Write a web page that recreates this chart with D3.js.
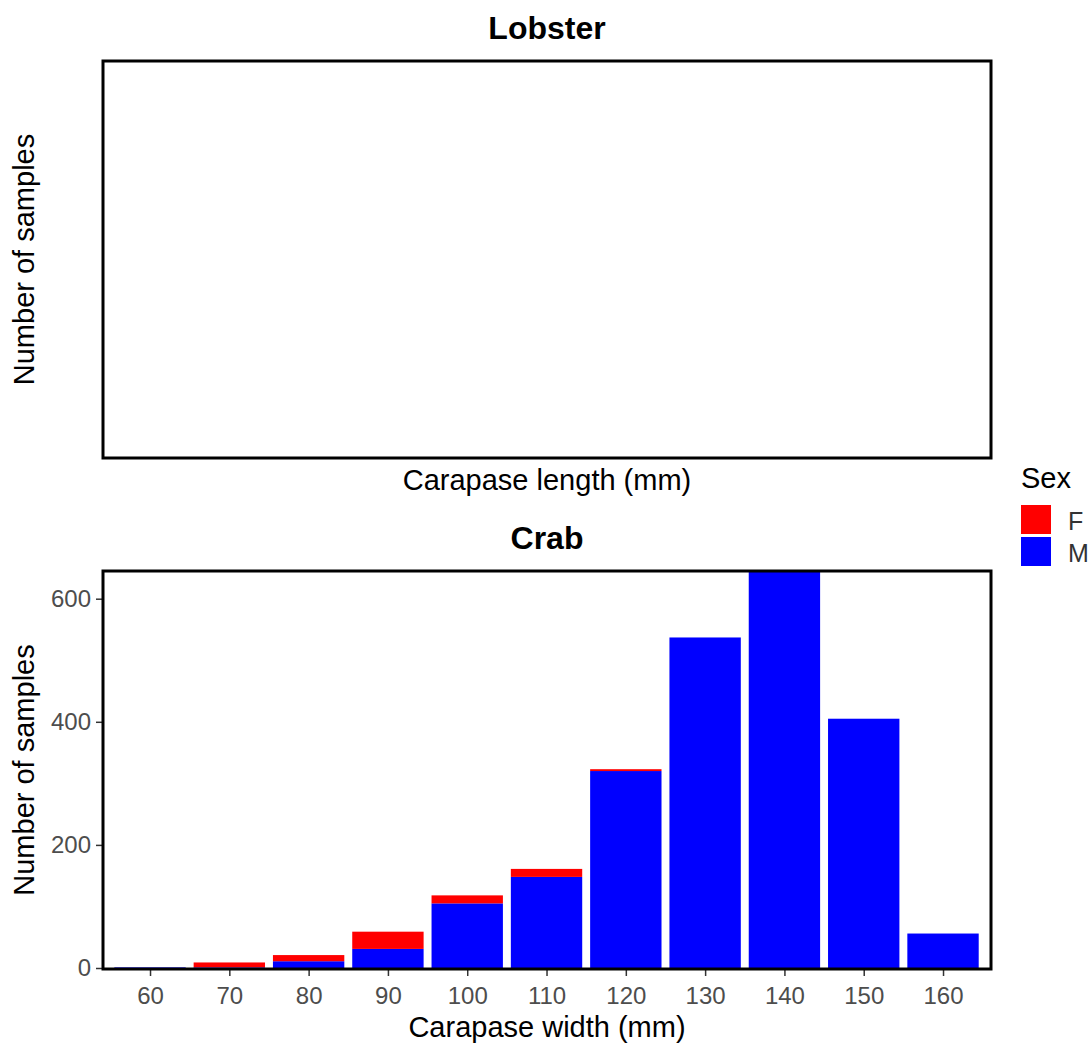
<!DOCTYPE html>
<html>
<head>
<meta charset="utf-8">
<script src="https://cdn.jsdelivr.net/npm/d3@7"></script>
<style>
  body { margin: 0; background: #fff; }
  text { font-family: "Liberation Sans", Arial, sans-serif; }
</style>
</head>
<body>
<div id="chart"></div>
<script>
// crab carapace width bins (mm) and counts per sex
const widths = [60, 70, 80, 90, 100, 110, 120, 130, 140, 150, 160];
const countM = [1, 1, 11, 31, 105, 148, 320, 537, 645, 405, 56];
const countF = [0, 8, 10, 28, 13, 13, 3, 0, 0, 0, 0];
const yTicks = [0, 200, 400, 600];
const sexes = ["F", "M"];
const sexColors = ["#ff0000", "#0000ff"];

const W = 1091, H = 1046;
const svg = d3.select("#chart").append("svg")
    .attr("width", W)
    .attr("height", H);

const left = 103, right = 991;
const titleSize = "32px", axisTitleSize = "29px", tickSize = "24px";

// ---- Lobster panel (empty) ----
const lob = { top: 61, bottom: 458 };

svg.append("text")
    .attr("x", (left + right) / 2)
    .attr("y", 39)
    .attr("text-anchor", "middle")
    .style("font-size", titleSize)
    .style("font-weight", "bold")
    .text("Lobster");

svg.append("rect")
    .attr("x", left)
    .attr("y", lob.top)
    .attr("width", right - left)
    .attr("height", lob.bottom - lob.top)
    .attr("fill", "none")
    .attr("stroke", "#000")
    .attr("stroke-width", 3);

svg.append("text")
    .attr("transform", `translate(34, ${(lob.top + lob.bottom) / 2}) rotate(-90)`)
    .attr("text-anchor", "middle")
    .style("font-size", axisTitleSize)
    .text("Number of samples");

svg.append("text")
    .attr("x", (left + right) / 2)
    .attr("y", 490)
    .attr("text-anchor", "middle")
    .style("font-size", axisTitleSize)
    .text("Carapase length (mm)");

// ---- Crab panel ----
const crab = { top: 571, bottom: 969 };

svg.append("text")
    .attr("x", (left + right) / 2)
    .attr("y", 549)
    .attr("text-anchor", "middle")
    .style("font-size", titleSize)
    .style("font-weight", "bold")
    .text("Crab");

const x = d3.scaleLinear()
    .domain([54.07, 166.05])
    .range([left, right]);

const y = d3.scaleLinear()
    .domain([0, 645])
    .range([crab.bottom - 1, crab.top]);

const rows = widths.map((w, i) => ({ w, F: countF[i], M: countM[i] }));
const stacked = d3.stack().keys(["M", "F"])(rows);
const color = d3.scaleOrdinal().domain(sexes).range(sexColors);

const binW = 10 * 0.9;

svg.append("g")
    .selectAll("g")
    .data(stacked)
    .join("g")
    .attr("fill", d => color(d.key))
    .selectAll("rect")
    .data(d => d)
    .join("rect")
    .attr("x", d => x(d.data.w - binW / 2))
    .attr("width", d => x(d.data.w + binW / 2) - x(d.data.w - binW / 2))
    .attr("y", d => y(d[1]))
    .attr("height", d => Math.max(0, y(d[0]) - y(d[1])));

// axes
const xAxis = svg.append("g")
    .attr("transform", `translate(0, ${crab.bottom})`)
    .call(d3.axisBottom(x).tickValues(widths).tickSize(7).tickPadding(11));

const yAxis = svg.append("g")
    .attr("transform", `translate(${left}, 0)`)
    .call(d3.axisLeft(y).tickValues(yTicks).tickSize(7).tickPadding(5));

[xAxis, yAxis].forEach(a => {
    a.select(".domain").remove();
    a.selectAll("line").attr("stroke", "#333").attr("stroke-width", 1.5);
    a.selectAll("text")
        .style("font-size", tickSize)
        .style("font-family", "Liberation Sans, Arial, sans-serif")
        .attr("fill", "#4d4d4d");
});

// panel border
svg.append("rect")
    .attr("x", left)
    .attr("y", crab.top)
    .attr("width", right - left)
    .attr("height", crab.bottom - crab.top)
    .attr("fill", "none")
    .attr("stroke", "#000")
    .attr("stroke-width", 3);

svg.append("text")
    .attr("transform", `translate(34, ${(crab.top + crab.bottom) / 2}) rotate(-90)`)
    .attr("text-anchor", "middle")
    .style("font-size", axisTitleSize)
    .text("Number of samples");

svg.append("text")
    .attr("x", (left + right) / 2)
    .attr("y", 1037)
    .attr("text-anchor", "middle")
    .style("font-size", axisTitleSize)
    .text("Carapase width (mm)");

// ---- legend ----
const legend = svg.append("g").attr("transform", "translate(1021, 0)");

legend.append("text")
    .attr("x", 0)
    .attr("y", 488)
    .style("font-size", "29px")
    .text("Sex");

sexes.forEach((s, i) => {
    legend.append("rect")
        .attr("x", 0)
        .attr("y", 505 + i * 32)
        .attr("width", 30)
        .attr("height", 29)
        .attr("fill", color(s));
    legend.append("text")
        .attr("x", 47)
        .attr("y", 530 + i * 32)
        .style("font-size", "25px")
        .attr("fill", "#333")
        .text(s);
});
</script>
</body>
</html>
